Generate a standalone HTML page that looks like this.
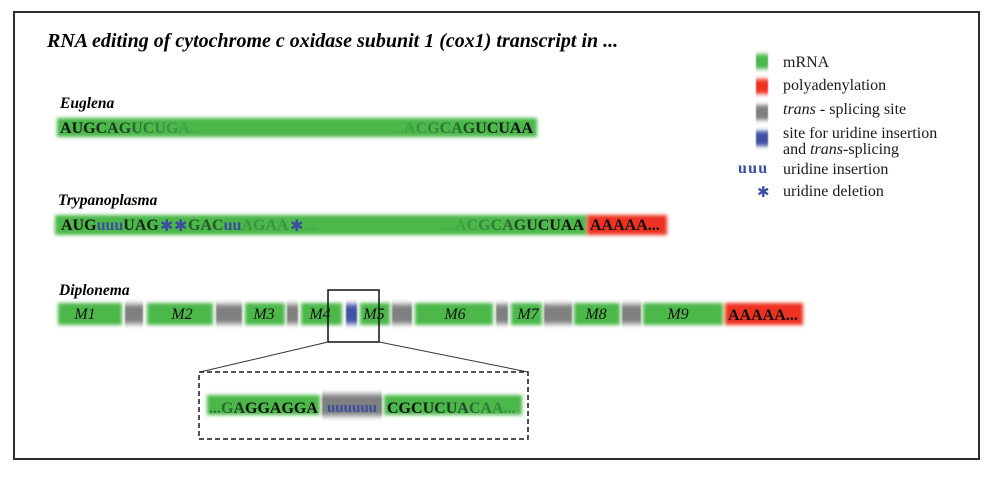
<!DOCTYPE html>
<html>
<head>
<meta charset="utf-8">
<style>
  html,body{margin:0;padding:0;background:#fff;}
  svg{display:block;}
  text{font-family:"Liberation Serif",serif;}
</style>
</head>
<body>
<svg width="1000" height="483" viewBox="0 0 1000 483" xmlns="http://www.w3.org/2000/svg">
  <defs>
    <filter id="b" x="-10%" y="-60%" width="120%" height="220%">
      <feGaussianBlur stdDeviation="1.9"/>
    </filter>
    <filter id="bv" x="-30%" y="-60%" width="160%" height="220%">
      <feGaussianBlur stdDeviation="0.8 2.6"/>
    </filter>
    <filter id="bl" x="-50%" y="-50%" width="200%" height="200%">
      <feGaussianBlur stdDeviation="0.5 2.2"/>
    </filter>
  </defs>

  <!-- outer border -->
  <rect x="14" y="12" width="965" height="447" fill="none" stroke="#2e2e2e" stroke-width="2"/>

  <!-- title -->
  <text x="47" y="47" font-size="20" font-weight="bold" font-style="italic" fill="#000">RNA editing of cytochrome c oxidase subunit 1 (cox1) transcript in ...</text>

  <!-- legend -->
  <rect x="756" y="54" width="12" height="15" fill="#4cb848" filter="url(#bl)"/>
  <rect x="756" y="79" width="12" height="15" fill="#ee3124" filter="url(#bl)"/>
  <rect x="756" y="105" width="12" height="15" fill="#7f7f7f" filter="url(#bl)"/>
  <rect x="756" y="131" width="12" height="15" fill="#3f51a3" filter="url(#bl)"/>
  <g font-size="16" fill="#1a1a1a">
    <text x="783" y="67">mRNA</text>
    <text x="783" y="90">polyadenylation</text>
    <text x="783" y="114"><tspan font-style="italic">trans</tspan> - splicing site</text>
    <text x="783" y="138">site for uridine insertion</text>
    <text x="783" y="154">and <tspan font-style="italic">trans</tspan>-splicing</text>
    <text x="783" y="174">uridine insertion</text>
    <text x="783" y="196">uridine deletion</text>
  </g>
  <text x="738" y="173" font-size="16" font-weight="bold" fill="#3a4da0" letter-spacing="1.2">uuu</text>
  <text x="757" y="197" font-size="15" fill="#3a4da0" style="font-family:'DejaVu Sans',sans-serif">✱</text>

  <!-- Euglena -->
  <text x="60" y="108" font-size="15.5" font-weight="bold" font-style="italic" fill="#000">Euglena</text>
  <rect x="57" y="118" width="480" height="19" fill="#4cb848" filter="url(#b)"/>
  <text x="60" y="133" font-size="16" font-weight="bold"><tspan fill="#0d0d0d">A</tspan><tspan fill="#111712">U</tspan><tspan fill="#152016">G</tspan><tspan fill="#1a2c1d">C</tspan><tspan fill="#1e3822">A</tspan><tspan fill="#234627">G</tspan><tspan fill="#2a6a32">U</tspan><tspan fill="#30793a">C</tspan><tspan fill="#358840">U</tspan><tspan fill="#3a9443">G</tspan><tspan fill="#3fa046">A</tspan><tspan fill="#45aa48">...</tspan></text>
  <text x="533" y="133" font-size="16" font-weight="bold" text-anchor="end"><tspan fill="#45aa48">...</tspan><tspan fill="#3fa046">A</tspan><tspan fill="#3a9443">C</tspan><tspan fill="#358840">G</tspan><tspan fill="#30793a">C</tspan><tspan fill="#2a6a32">A</tspan><tspan fill="#234627">G</tspan><tspan fill="#1a2c1d">U</tspan><tspan fill="#152016">C</tspan><tspan fill="#111712">U</tspan><tspan fill="#0d0d0d">AA</tspan></text>

  <!-- Trypanoplasma -->
  <text x="58" y="205" font-size="15.5" font-weight="bold" font-style="italic" fill="#000">Trypanoplasma</text>
  <rect x="55" y="215" width="532" height="20" fill="#4cb848" filter="url(#b)"/>
  <rect x="587" y="215" width="80" height="20" fill="#ee3124" filter="url(#b)"/>
  <text x="61" y="230" font-size="16" font-weight="bold"><tspan fill="#0d0d0d">AUG</tspan><tspan fill="#3a4da0">uuu</tspan><tspan fill="#172519">UAG</tspan></text>
  <text x="160" y="231" font-size="16" fill="#3a4da0" style="font-family:'DejaVu Sans',sans-serif">✱</text>
  <text x="174" y="231" font-size="16" fill="#3a4da0" style="font-family:'DejaVu Sans',sans-serif">✱</text>
  <text x="188" y="230" font-size="16" font-weight="bold"><tspan fill="#24582d">GAC</tspan><tspan fill="#3a4da0">uu</tspan><tspan fill="#3a9443">AGAA</tspan></text>
  <text x="290" y="231" font-size="16" fill="#3a4da0" style="font-family:'DejaVu Sans',sans-serif">✱</text>
  <text x="304" y="230" font-size="16" font-weight="bold" fill="#45aa48">...</text>
  <text x="584" y="230" font-size="16" font-weight="bold" text-anchor="end"><tspan fill="#45aa48">...</tspan><tspan fill="#3fa046">A</tspan><tspan fill="#3a9443">C</tspan><tspan fill="#358840">G</tspan><tspan fill="#30793a">C</tspan><tspan fill="#2a6a32">A</tspan><tspan fill="#234627">G</tspan><tspan fill="#1a2c1d">U</tspan><tspan fill="#152016">C</tspan><tspan fill="#111712">U</tspan><tspan fill="#0d0d0d">AA</tspan></text>
  <text x="590" y="230" font-size="16" font-weight="bold" fill="#0d0d0d">AAAAA...</text>

  <!-- Diplonema -->
  <text x="59" y="295" font-size="15.5" font-weight="bold" font-style="italic" fill="#000">Diplonema</text>
  <g filter="url(#b)">
    <rect x="58" y="303" width="64" height="22" fill="#4cb848"/>
    <rect x="147" y="303" width="66" height="22" fill="#4cb848"/>
    <rect x="245" y="303" width="40" height="22" fill="#4cb848"/>
    <rect x="301" y="303" width="41" height="22" fill="#4cb848"/>
    <rect x="360" y="303" width="30" height="22" fill="#4cb848"/>
    <rect x="415" y="303" width="78" height="22" fill="#4cb848"/>
    <rect x="511" y="303" width="31" height="22" fill="#4cb848"/>
    <rect x="574" y="303" width="46" height="22" fill="#4cb848"/>
    <rect x="643" y="303" width="80" height="22" fill="#4cb848"/>
    <rect x="725" y="303" width="78" height="22" fill="#ee3124"/>
  </g>
  <g filter="url(#bv)">
    <rect x="125" y="304" width="18" height="20" fill="#7f7f7f"/>
    <rect x="216" y="304" width="26" height="20" fill="#7f7f7f"/>
    <rect x="287" y="304" width="11" height="20" fill="#7f7f7f"/>
    <rect x="346" y="304" width="11" height="20" fill="#3f51a3"/>
    <rect x="392" y="304" width="20" height="20" fill="#7f7f7f"/>
    <rect x="496" y="304" width="12" height="20" fill="#7f7f7f"/>
    <rect x="544" y="304" width="28" height="20" fill="#7f7f7f"/>
    <rect x="622" y="304" width="19" height="20" fill="#7f7f7f"/>
  </g>
  <g font-size="16" font-style="italic" fill="#111" text-anchor="middle">
    <text x="85" y="319">M1</text>
    <text x="182" y="319">M2</text>
    <text x="264" y="319">M3</text>
    <text x="320" y="319">M4</text>
    <text x="374" y="319">M5</text>
    <text x="455" y="319">M6</text>
    <text x="528" y="319">M7</text>
    <text x="596" y="319">M8</text>
    <text x="678" y="319">M9</text>
  </g>
  <text x="728" y="320" font-size="16" font-weight="bold" fill="#0d0d0d">AAAAA...</text>

  <!-- zoom box and connectors -->
  <rect x="328" y="290" width="51" height="52" fill="none" stroke="#111" stroke-width="1.5"/>
  <line x1="328" y1="342" x2="200" y2="372" stroke="#333" stroke-width="1"/>
  <line x1="379" y1="342" x2="528" y2="372" stroke="#333" stroke-width="1"/>
  <rect x="199" y="372" width="329" height="67" fill="none" stroke="#1a1a1a" stroke-width="1.5" stroke-dasharray="5,3"/>

  <!-- inset -->
  <rect x="207" y="395" width="113" height="20" fill="#4cb848" filter="url(#b)"/>
  <rect x="322" y="394" width="60" height="22" fill="#7f7f7f" filter="url(#bv)"/>
  <rect x="384" y="395" width="138" height="20" fill="#4cb848" filter="url(#b)"/>
  <text x="209" y="413" font-size="16" font-weight="bold"><tspan fill="#2f7437">...</tspan><tspan fill="#2a6a32">G</tspan><tspan fill="#1e3822">A</tspan><tspan fill="#0d0d0d">GGAGGA</tspan></text>
  <text x="352" y="412" font-size="15" font-weight="bold" fill="#3a4da0" text-anchor="middle">uuuuuu</text>
  <text x="387" y="413" font-size="16" font-weight="bold"><tspan fill="#0d0d0d">CGC</tspan><tspan fill="#152016">U</tspan><tspan fill="#1a2c1d">C</tspan><tspan fill="#1e3822">U</tspan><tspan fill="#234627">A</tspan><tspan fill="#2a6a32">C</tspan><tspan fill="#30793a">A</tspan><tspan fill="#358840">A</tspan><tspan fill="#3a9443">...</tspan></text>
</svg>
</body>
</html>
